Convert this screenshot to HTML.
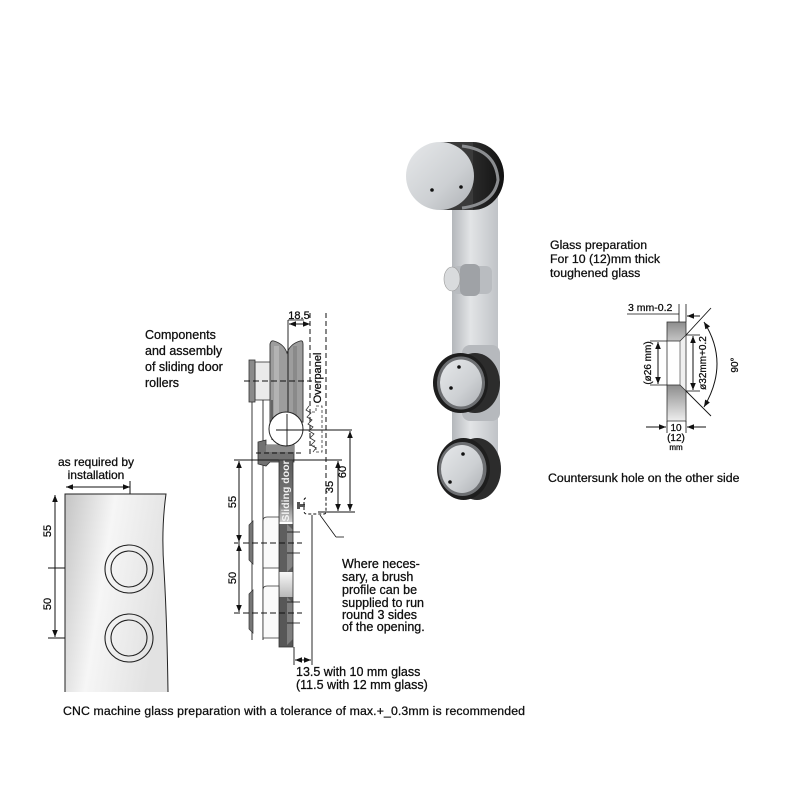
<!DOCTYPE html>
<html><head><meta charset="utf-8"><style>
html,body{margin:0;padding:0;background:#fff;}
svg{display:block;font-family:"Liberation Sans",Arial,sans-serif;}
svg text{stroke:#000;stroke-width:0.25px;}
</style></head><body>
<svg width="800" height="800" viewBox="0 0 800 800" xmlns="http://www.w3.org/2000/svg">
<defs>
<marker id="ah" viewBox="0 0 10 10" refX="10" refY="5" markerWidth="7" markerHeight="7" orient="auto-start-reverse" markerUnits="userSpaceOnUse"><path d="M0,1 L10,5 L0,9 z" fill="#111"/></marker>
<linearGradient id="panel" x1="0" y1="0" x2="1" y2="0.3"><stop offset="0" stop-color="#c4c4c4"/><stop offset="0.45" stop-color="#f6f6f6"/><stop offset="1" stop-color="#e2e2e2"/></linearGradient>
<linearGradient id="face" x1="0" y1="0" x2="1" y2="1"><stop offset="0" stop-color="#e6e8ea"/><stop offset="0.6" stop-color="#cdd0d3"/><stop offset="1" stop-color="#aeb1b5"/></linearGradient>
<linearGradient id="bar" x1="0" y1="0" x2="1" y2="0"><stop offset="0" stop-color="#b4b7bb"/><stop offset="0.4" stop-color="#e2e4e6"/><stop offset="1" stop-color="#c0c3c7"/></linearGradient>
<linearGradient id="dark" x1="0" y1="0" x2="1" y2="0"><stop offset="0" stop-color="#555"/><stop offset="0.5" stop-color="#2a2a2a"/><stop offset="1" stop-color="#111"/></linearGradient>
<linearGradient id="gtop" x1="0" y1="0" x2="0" y2="1"><stop offset="0" stop-color="#8d8d8d"/><stop offset="1" stop-color="#c5c5c5"/></linearGradient>
<linearGradient id="gbot" x1="0" y1="0" x2="0" y2="1"><stop offset="0" stop-color="#8d8d8d"/><stop offset="1" stop-color="#eeeeee"/></linearGradient>
<linearGradient id="sd" x1="0" y1="0" x2="0" y2="1"><stop offset="0" stop-color="#5a5a5a"/><stop offset="0.7" stop-color="#7a7a7a"/><stop offset="1" stop-color="#cfcfcf"/></linearGradient>
<linearGradient id="lite" x1="0" y1="0" x2="0" y2="1"><stop offset="0" stop-color="#f8f8f8"/><stop offset="1" stop-color="#b9b9b9"/></linearGradient>
</defs>

<!-- ============ LEFT GLASS PANEL ============ -->
<text x="96" y="466" font-size="12" text-anchor="middle" fill="#111">as required by</text>
<text x="96" y="479" font-size="12" text-anchor="middle" fill="#111">installation</text>
<line x1="66" y1="487" x2="130" y2="487" stroke="#111" stroke-width="1" marker-start="url(#ah)" marker-end="url(#ah)"/>
<line x1="130" y1="481" x2="130" y2="494" stroke="#111" stroke-width="1"/>
<path d="M65,494 L166,494 Q161,530 164,570 Q167,620 168,692 L65,692 Z" fill="url(#panel)"/>
<path d="M65,692 L65,494 L166,494 Q161,530 164,570 Q167,620 168,692" fill="none" stroke="#222" stroke-width="1"/>
<circle cx="129" cy="569" r="24" fill="none" stroke="#222" stroke-width="1.1"/>
<circle cx="129" cy="569" r="18" fill="none" stroke="#222" stroke-width="1.1"/>
<circle cx="129" cy="638" r="24" fill="none" stroke="#222" stroke-width="1.1"/>
<circle cx="129" cy="638" r="18" fill="none" stroke="#222" stroke-width="1.1"/>
<line x1="55" y1="495" x2="55" y2="568" stroke="#111" marker-start="url(#ah)"/>
<line x1="55" y1="568" x2="55" y2="637" stroke="#111" marker-end="url(#ah)"/>
<line x1="48" y1="568" x2="65" y2="568" stroke="#111"/>
<line x1="48" y1="638" x2="65" y2="638" stroke="#111"/>
<text transform="translate(51,531) rotate(-90)" font-size="11" text-anchor="middle" fill="#111">55</text>
<text transform="translate(51,604) rotate(-90)" font-size="11" text-anchor="middle" fill="#111">50</text>

<text x="63" y="715" font-size="12.3" fill="#111" textLength="462">CNC machine glass preparation with a tolerance of max.+_0.3mm is recommended</text>

<!-- ============ MIDDLE ASSEMBLY ============ -->
<text x="145" y="339" font-size="12.5" fill="#111">Components</text>
<text x="145" y="355" font-size="12.5" fill="#111">and assembly</text>
<text x="145" y="371" font-size="12.5" fill="#111">of sliding door</text>
<text x="145" y="387" font-size="12.5" fill="#111">rollers</text>

<!-- 18.5 -->
<text x="299" y="319" font-size="11" text-anchor="middle" fill="#111">18.5</text>
<line x1="288" y1="320" x2="304" y2="320" stroke="#111" stroke-width="0.8"/>
<line x1="289" y1="324" x2="310" y2="324" stroke="#111" marker-start="url(#ah)" marker-end="url(#ah)"/>
<line x1="310" y1="313" x2="310" y2="456" stroke="#111" stroke-dasharray="5,3"/>
<line x1="326" y1="313" x2="326" y2="500" stroke="#111" stroke-dasharray="5,3"/>

<!-- back plate -->
<rect x="255" y="362" width="17" height="38" fill="#eaeaea" stroke="#333" stroke-width="0.8"/>
<rect x="249" y="360" width="6" height="42" fill="#8a8a8a" stroke="#333" stroke-width="0.8"/>
<!-- wheel -->
<path d="M270,422 V344 Q271,340 274,341 Q284,344 287,353 Q290,344 300,341 Q303,340 303,344 V422 Z" fill="#9d9d9d" stroke="#333" stroke-width="0.9"/>
<rect x="274" y="346" width="5" height="74" fill="#b3b3b3"/>
<rect x="293" y="346" width="4" height="74" fill="#8a8a8a"/>
<line x1="288" y1="320" x2="288" y2="460" stroke="#111" stroke-width="0.9"/>
<line x1="244" y1="381" x2="312" y2="381" stroke="#111" stroke-dasharray="6,3"/>
<!-- lines down -->
<line x1="252" y1="402" x2="252" y2="640" stroke="#222" stroke-width="0.9"/>
<line x1="263" y1="400" x2="263" y2="640" stroke="#222" stroke-width="0.9"/>
<line x1="272" y1="400" x2="272" y2="440" stroke="#222" stroke-width="0.9"/>
<!-- gear piece -->
<path d="M258,442 L266,440 L266,445 L294,445 L294,462 L270,462 L266,466 L258,464 Z" fill="#727272" stroke="#333" stroke-width="0.8"/>
<rect x="266" y="445" width="28" height="7" fill="#8c8c8c"/>
<line x1="256" y1="453" x2="302" y2="453" stroke="#111" stroke-dasharray="5,3"/>
<!-- circle -->
<circle cx="286" cy="429" r="17" fill="#fff" stroke="#222" stroke-width="1"/>
<line x1="276" y1="430" x2="352" y2="430" stroke="#111" stroke-width="0.9"/>
<line x1="287" y1="414" x2="287" y2="446" stroke="#111" stroke-width="0.9"/>

<!-- overpanel brush -->
<path d="M309,406 l-3,4 l5,3 l-4,4 l5,3 l-4,4 l5,3 l-4,4 l5,3 l-4,4 l5,3 l-4,4 l5,3 l-3,4" fill="none" stroke="#333" stroke-width="0.8"/>
<path d="M312,412 h4 v-6 h6 v46 h-6 v-6 h-4" fill="none" stroke="#333" stroke-width="0.8" stroke-dasharray="3,2"/>
<text transform="translate(321,378) rotate(-90)" font-size="11" text-anchor="middle" fill="#111">Overpanel</text>

<!-- horizontal at 460 -->
<line x1="234" y1="460" x2="342" y2="460" stroke="#111" stroke-width="0.9"/>

<!-- sliding door bar -->
<rect x="279" y="460" width="14" height="62" fill="url(#sd)"/>
<text transform="translate(289,491) rotate(-90)" font-size="10.5" font-weight="bold" text-anchor="middle" fill="#f2f2f2" style="stroke:none">Sliding door</text>
<path d="M279,524 H293 V572 H279 Z" fill="#5e5e5e"/>
<path d="M287,524 L293,530 V566 L287,572 Z" fill="#858585"/>
<rect x="279" y="572" width="14" height="25" fill="url(#lite)"/>
<path d="M279,597 H293 V647 H279 Z" fill="#575757"/>
<path d="M287,597 L293,603 V639 L287,645 Z" fill="#7f7f7f"/>
<rect x="279" y="460" width="14" height="187" fill="none" stroke="#333" stroke-width="0.8"/>
<!-- roller bodies -->
<path d="M263,568 V521 Q263,517 267,517 H279 V568 Z" fill="#fafafa" stroke="#333" stroke-width="0.8"/>
<path d="M263,638 V590 Q263,586 267,586 H279 V638 Z" fill="#fafafa" stroke="#333" stroke-width="0.8"/>
<!-- left tabs -->
<path d="M249,525 L253,521 V564 L249,560 Z" fill="#777" stroke="#333" stroke-width="0.7"/>
<path d="M249,594 L253,590 V633 L249,629 Z" fill="#777" stroke="#333" stroke-width="0.7"/>
<!-- dashed centerlines -->
<line x1="234" y1="543" x2="302" y2="543" stroke="#111" stroke-dasharray="6,3"/>
<line x1="234" y1="613" x2="302" y2="613" stroke="#111" stroke-dasharray="6,3"/>
<line x1="287" y1="532" x2="300" y2="532" stroke="#111" stroke-width="0.8"/>
<line x1="287" y1="553" x2="300" y2="553" stroke="#111" stroke-width="0.8"/>
<line x1="287" y1="602" x2="300" y2="602" stroke="#111" stroke-width="0.8"/>
<line x1="287" y1="623" x2="300" y2="623" stroke="#111" stroke-width="0.8"/>
<!-- left dims -->
<line x1="239" y1="461" x2="239" y2="542" stroke="#111" marker-start="url(#ah)" marker-end="url(#ah)"/>
<line x1="239" y1="544" x2="239" y2="612" stroke="#111" marker-start="url(#ah)" marker-end="url(#ah)"/>
<text transform="translate(236,502) rotate(-90)" font-size="11" text-anchor="middle" fill="#111">55</text>
<text transform="translate(236,578) rotate(-90)" font-size="11" text-anchor="middle" fill="#111">50</text>

<!-- screw + brush box -->
<path d="M297,502 h3 v2 h5 v3 h-5 v2 h-3 z" fill="#555"/>
<path d="M306,498 q-2,0 -2,3 v10 q0,3 3,3 h17 q2,0 2,-3 v-11" fill="none" stroke="#111" stroke-dasharray="3,2"/>
<line x1="312" y1="515" x2="312" y2="665" stroke="#111" stroke-width="0.9"/>
<line x1="294" y1="647" x2="294" y2="665" stroke="#111" stroke-width="0.9"/>
<line x1="295" y1="660" x2="311" y2="660" stroke="#111" marker-start="url(#ah)" marker-end="url(#ah)"/>
<line x1="320" y1="515" x2="336" y2="537" stroke="#111" stroke-width="0.8"/>
<line x1="336" y1="537" x2="344" y2="537" stroke="#111" stroke-width="0.8"/>

<!-- 35 / 60 -->
<line x1="338" y1="461" x2="338" y2="511" stroke="#111" marker-start="url(#ah)" marker-end="url(#ah)"/>
<line x1="350" y1="431" x2="350" y2="511" stroke="#111" marker-start="url(#ah)" marker-end="url(#ah)"/>
<line x1="318" y1="512" x2="355" y2="512" stroke="#111" stroke-width="0.9"/>
<text transform="translate(333,487) rotate(-90)" font-size="11" text-anchor="middle" fill="#111">35</text>
<text transform="translate(346,472) rotate(-90)" font-size="11" text-anchor="middle" fill="#111">60</text>

<text x="342" y="568" font-size="12.5" fill="#111">Where neces-</text>
<text x="342" y="581" font-size="12.5" fill="#111">sary, a brush</text>
<text x="342" y="594" font-size="12.5" fill="#111">profile can be</text>
<text x="342" y="607" font-size="12.5" fill="#111">supplied to run</text>
<text x="342" y="619" font-size="12.5" fill="#111">round 3 sides</text>
<text x="342" y="631" font-size="12.5" fill="#111">of the opening.</text>

<text x="296" y="676" font-size="12.5" fill="#111">13.5 with 10 mm glass</text>
<text x="296" y="689" font-size="12.5" fill="#111">(11.5 with 12 mm glass)</text>

<!-- ============ PRODUCT PHOTO ============ -->
<rect x="452" y="196" width="46" height="290" rx="20" fill="url(#bar)"/>
<rect x="452" y="196" width="46" height="40" fill="url(#bar)"/>
<!-- big disc -->
<ellipse cx="473" cy="176" rx="31" ry="34" fill="url(#dark)"/>
<rect x="440" y="142" width="33" height="68" fill="#3a3a3a"/>
<path d="M462,146 Q496,150 498,180 Q494,204 462,208" fill="none" stroke="#8b8d90" stroke-width="3"/>
<ellipse cx="440" cy="176" rx="34" ry="34" fill="url(#face)"/>
<circle cx="432" cy="190" r="1.8" fill="#111"/>
<circle cx="461" cy="187" r="1.8" fill="#111"/>
<!-- knob -->
<rect x="452" y="266" width="40" height="28" rx="6" fill="#b9bcc0"/>
<rect x="460" y="264" width="20" height="32" rx="6" fill="#9fa2a6"/>
<ellipse cx="452" cy="279" rx="8" ry="12" fill="#d9dbdd" stroke="#999" stroke-width="0.6"/>
<!-- roller 1 -->
<rect x="462" y="345" width="38" height="76" rx="8" fill="#b6b9bd"/>
<ellipse cx="475" cy="383" rx="25" ry="30" fill="#2c2c2c"/>
<ellipse cx="460.5" cy="383" rx="27.5" ry="30" fill="#1e1e1e"/>
<ellipse cx="461" cy="383" rx="24" ry="26.5" fill="#6d6f72"/>
<ellipse cx="461" cy="383" rx="21" ry="23.5" fill="url(#face)"/>
<circle cx="459" cy="367" r="1.8" fill="#111"/>
<circle cx="451" cy="388" r="1.8" fill="#111"/>
<!-- roller 2 -->
<ellipse cx="477" cy="469" rx="24" ry="31" fill="#2c2c2c"/>
<ellipse cx="463.5" cy="469" rx="26.5" ry="31" fill="#1e1e1e"/>
<ellipse cx="462.5" cy="469" rx="24" ry="27" fill="#6d6f72"/>
<ellipse cx="462" cy="469" rx="21" ry="24" fill="url(#face)"/>
<circle cx="463" cy="454" r="1.8" fill="#111"/>
<circle cx="450" cy="482" r="1.8" fill="#111"/>

<!-- ============ RIGHT DIAGRAM ============ -->
<text x="550" y="249" font-size="12.3" fill="#111">Glass preparation</text>
<text x="550" y="263" font-size="12.3" fill="#111">For 10 (12)mm thick</text>
<text x="550" y="277" font-size="12.3" fill="#111">toughened glass</text>

<text x="628" y="311" font-size="10.5" fill="#111">3 mm-0.2</text>
<line x1="627" y1="314" x2="679" y2="314" stroke="#111" stroke-width="0.8"/>
<line x1="679" y1="304" x2="679" y2="322" stroke="#111" stroke-width="0.8"/>
<line x1="686" y1="304" x2="686" y2="322" stroke="#111" stroke-width="0.8"/>
<line x1="700" y1="316" x2="687" y2="316" stroke="#111" marker-end="url(#ah)"/>

<rect x="667" y="322" width="19" height="19" fill="url(#gtop)"/>
<rect x="667" y="385" width="19" height="36" fill="url(#gbot)"/>
<polygon points="667,341 680,341 686,335 686,391 680,385 667,385" fill="#fff"/>
<polygon points="680,341 686,335 686,391 680,385" fill="#f0f0f0"/>
<rect x="667" y="322" width="19" height="99" fill="none" stroke="#333" stroke-width="0.8"/>
<line x1="667" y1="341" x2="680" y2="341" stroke="#333" stroke-width="0.8"/>
<line x1="667" y1="385" x2="680" y2="385" stroke="#333" stroke-width="0.8"/>
<line x1="680" y1="341" x2="680" y2="385" stroke="#333" stroke-width="0.6"/>
<line x1="680" y1="341" x2="686" y2="335" stroke="#333" stroke-width="0.8"/>
<line x1="680" y1="385" x2="686" y2="391" stroke="#333" stroke-width="0.8"/>
<!-- ø26 -->
<line x1="650" y1="341" x2="667" y2="341" stroke="#111" stroke-width="0.8"/>
<line x1="650" y1="385" x2="667" y2="385" stroke="#111" stroke-width="0.8"/>
<line x1="658" y1="342" x2="658" y2="384" stroke="#111" marker-start="url(#ah)" marker-end="url(#ah)"/>
<text transform="translate(651,363) rotate(-90)" font-size="10" text-anchor="middle" fill="#111">(ø26 mm)</text>
<!-- ø32 -->
<line x1="686" y1="335" x2="700" y2="335" stroke="#111" stroke-width="0.8"/>
<line x1="686" y1="391" x2="700" y2="391" stroke="#111" stroke-width="0.8"/>
<line x1="693" y1="336" x2="693" y2="390" stroke="#111" marker-start="url(#ah)" marker-end="url(#ah)"/>
<text transform="translate(706,363) rotate(-90)" font-size="10" text-anchor="middle" fill="#111">ø32mm+0.2</text>
<!-- 90° -->
<line x1="686" y1="335" x2="711" y2="308" stroke="#111" stroke-width="0.9"/>
<line x1="686" y1="391" x2="711" y2="416" stroke="#111" stroke-width="0.9"/>
<path d="M704,322 Q730,363 704,407" fill="none" stroke="#111" marker-start="url(#ah)" marker-end="url(#ah)"/>
<text transform="translate(738,365) rotate(-90)" font-size="10" text-anchor="middle" fill="#111">90°</text>
<!-- 10 (12) mm -->
<line x1="667" y1="421" x2="667" y2="433" stroke="#111" stroke-width="0.8"/>
<line x1="686" y1="421" x2="686" y2="433" stroke="#111" stroke-width="0.8"/>
<line x1="646" y1="427" x2="666" y2="427" stroke="#111" marker-end="url(#ah)"/>
<line x1="706" y1="427" x2="687" y2="427" stroke="#111" marker-end="url(#ah)"/>
<text x="676" y="431" font-size="10" text-anchor="middle" fill="#111">10</text>
<text x="676" y="441" font-size="10" text-anchor="middle" fill="#111">(12)</text>
<text x="676" y="450" font-size="8" text-anchor="middle" fill="#111">mm</text>

<text x="548" y="482" font-size="12.3" fill="#111">Countersunk hole on the other side</text>
</svg>
</body></html>
